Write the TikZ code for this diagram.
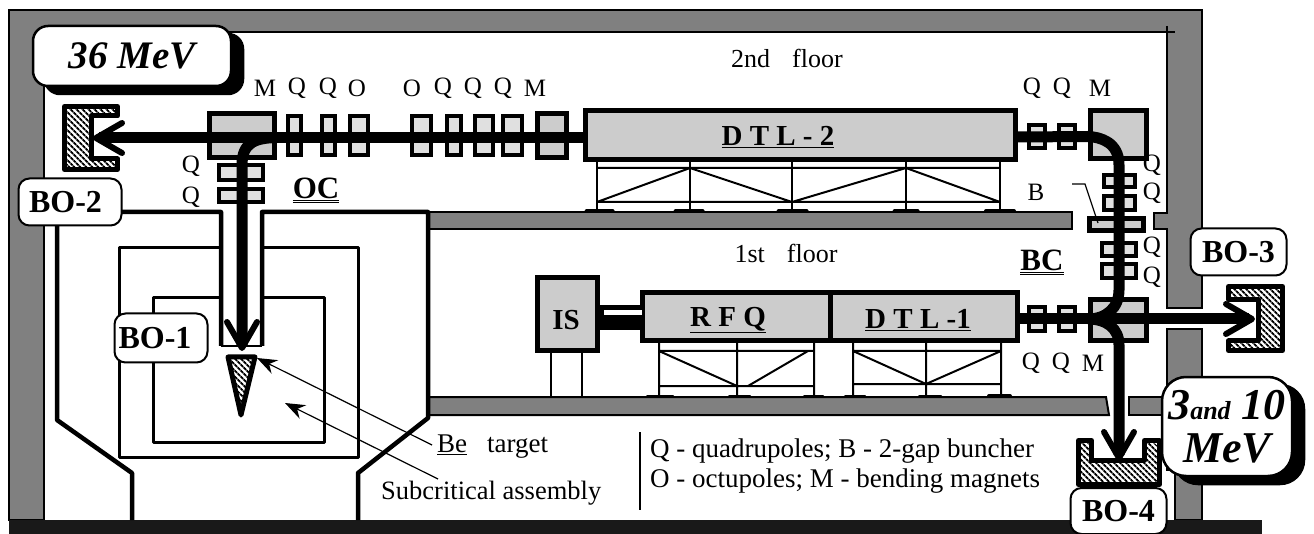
\documentclass[tikz,border=0pt]{standalone}
\usepackage{fontspec}
\setmainfont{Liberation Serif}
\usetikzlibrary{arrows.meta,patterns.meta,shadows}
\definecolor{wall}{HTML}{808080}
\definecolor{magnet}{HTML}{CCCCCC}
\definecolor{lens}{HTML}{E0E0E0}
\tikzset{
  concrete/.style={draw=black,line width=2pt,fill=wall},
  outline/.style={draw=black,line width=4.5pt,line join=round},
  inner wall/.style={draw=black,line width=3pt,line join=round},
  strut/.style={draw=black,line width=2pt},
  foot/.style={draw=black,line width=3pt,line cap=round},
  lens box/.style={draw=black,line width=4pt,fill=lens,inner sep=0pt},
  mag box/.style={draw=black,line width=5pt,fill=magnet,inner sep=0pt},
  hatched/.style={draw=black,line width=5pt,line join=round,preaction={fill=white},pattern={Lines[angle=-45,distance=4pt,line width=2pt]}},
  beam/.style={draw=black,line width=11pt},
  beamto/.style={beam,-{Straight Barb[length=26pt,width=30pt,line width=6pt,round]}},
  lead/.style={draw=black,line width=1.2pt},
  leadto/.style={lead,-{Stealth[length=20pt,width=15pt]}},
  lab/.style={font=\fontsize{25}{27}\selectfont,inner sep=0pt},
  legend/.style={font=\fontsize{27}{29}\selectfont,inner sep=0pt},
  title/.style={font=\fontsize{29}{31}\selectfont\bfseries,inner sep=0pt},
  section/.style={font=\fontsize{31}{33}\selectfont\bfseries,inner sep=0pt},
  tag/.style={draw=black,line width=2pt,fill=white,rounded corners=11pt,inner sep=0pt,font=\fontsize{32}{34}\selectfont\bfseries},
  energy/.style={draw=black,line width=2.5pt,fill=white,inner sep=0pt,align=center,font=\fontsize{39}{43}\selectfont\bfseries\itshape,
    copy shadow={shadow xshift=12pt,shadow yshift=-8pt,fill=black,draw=black}},
}
\begin{document}
\begin{tikzpicture}[x=1pt,y=-1pt]
\useasboundingbox (0,0) rectangle (1314,534);
\draw[concrete] (9,10) -- (1202,10) -- (1202,308) -- (1167,308) -- (1167,229) -- (1154,229) -- (1154,213) -- (1167,213) -- (1167,32) -- (44,32) -- (44,520) -- (9,520) -- cycle;
\draw[strut] (1167,26) -- (1167,32) -- (1175,32);
\draw[concrete] (1167,329) -- (1202,329) -- (1202,520) -- (1175,520) -- (1175,470) -- (1167,470) -- cycle;
\draw[concrete] (428,212) rectangle (1072,229);
\draw[concrete] (428,397) -- (1106,397) -- (1109,415) -- (428,415) -- cycle;
\draw[concrete] (1129,397) -- (1167,397) -- (1167,415) -- (1129,415) -- cycle;
\fill[black!90] (9,520) rectangle (1262,534);

\draw[outline] (221,346) -- (221,212) -- (57,212) -- (57,420) -- (132,473) -- (132,520);
\draw[outline] (262,346) -- (262,212) -- (428,212) -- (428,418) -- (358,473) -- (358,520);
\draw[strut] (221,346) -- (262,346);
\draw[inner wall] (221,248) -- (119,248) -- (119,457) -- (358,457) -- (358,248) -- (262,248);
\draw[inner wall] (221,298) -- (153,298) -- (153,442) -- (324,442) -- (324,298) -- (262,298);

\draw[strut] (597,156) -- (597,212) (690,156) -- (690,212) (792,156) -- (792,212) (906,156) -- (906,212) (1000,156) -- (1000,212);
\draw[strut] (597,168) -- (1000,168) (597,202) -- (1000,202) (597,202) -- (690,168) -- (792,202) -- (906,168) -- (1000,202);
\draw[foot] (586,211) -- (613,211) (675,211) -- (703,211) (778,211) -- (807,211) (894,211) -- (918,211);
\draw[foot,line width=4pt] (986,211) -- (1014,211);
\draw[strut] (659,343) -- (659,397) (737,343) -- (737,397) (814,343) -- (814,397) (659,351) -- (814,351) (659,386) -- (814,386) (659,351) -- (737,386) (748,386) -- (808,351);
\draw[foot] (647,396) -- (673,396) (729,396) -- (750,396) (804,396) -- (823,396);
\draw[strut] (853,343) -- (853,397) (926,343) -- (926,397) (1001,343) -- (1001,397) (853,351) -- (1001,351) (853,384) -- (1001,384) (853,351) -- (926,384) -- (1001,351);
\draw[foot] (845,396) -- (865,396) (919,396) -- (941,396);
\draw[foot,line width=4pt] (989,396) -- (1010,396);
\draw[strut] (551,353) -- (551,397) (582,353) -- (582,397);

\node[mag box,minimum width=65pt,minimum height=44pt] (mone) at (242,135.5) {};
\node[lens box,minimum width=13pt,minimum height=39pt] (qone) at (294.5,135.5) {};
\node[lens box,minimum width=13pt,minimum height=39pt] (qtwo) at (328.5,135.5) {};
\node[lens box,minimum width=18pt,minimum height=39pt] (oone) at (359,135.5) {};
\node[lens box,minimum width=19pt,minimum height=39pt] (otwo) at (421.5,135.5) {};
\node[lens box,minimum width=14pt,minimum height=39pt] (qthree) at (454,135.5) {};
\node[lens box,minimum width=18pt,minimum height=39pt] (qfour) at (484,135.5) {};
\node[lens box,minimum width=19pt,minimum height=39pt] (qfive) at (512.5,135.5) {};
\node[mag box,minimum width=29pt,minimum height=44pt] (mtwo) at (552,135.5) {};
\node[mag box,minimum width=430pt,minimum height=49pt] (dtltwo) at (800.5,135) {};
\node[lens box,minimum width=44pt,minimum height=15pt] (qsix) at (241,172.5) {};
\node[lens box,minimum width=44pt,minimum height=13pt] (qseven) at (241,195.5) {};
\node[lens box,minimum width=16pt,minimum height=23pt] (qeight) at (1037,136.5) {};
\node[lens box,minimum width=16pt,minimum height=23pt] (qnine) at (1067,136.5) {};
\node[mag box,minimum width=56pt,minimum height=48pt] (mthree) at (1118.5,134.5) {};
\node[lens box,minimum width=31pt,minimum height=12pt] (qten) at (1119.5,181) {};
\node[lens box,minimum width=31pt,minimum height=14pt] (qeleven) at (1119.5,203) {};
\node[mag box,minimum width=54pt,minimum height=12pt] (bunch) at (1116.5,224.5) {};
\node[lens box,minimum width=34pt,minimum height=13pt] (qtwelve) at (1119,249.5) {};
\node[lens box,minimum width=34pt,minimum height=14pt] (qthirteen) at (1119,271) {};
\node[mag box,minimum width=56pt,minimum height=41pt] (mfour) at (1118.5,320) {};
\node[lens box,minimum width=16pt,minimum height=24pt] (qfourteen) at (1037,319) {};
\node[lens box,minimum width=16pt,minimum height=24pt] (qfifteen) at (1067,319) {};
\node[mag box,minimum width=60pt,minimum height=73pt] (is) at (567.5,314) {};
\node[mag box,minimum width=188pt,minimum height=48pt] (rfq) at (736,316.5) {};
\node[mag box,minimum width=187pt,minimum height=48pt] (dtlone) at (923.5,316.5) {};

\fill[black] (is.east |- 0,305) rectangle (rfq.west |- 0,330);
\fill[white] (604,310) rectangle (642,315);

\draw[hatched] (64.5,106.5) -- (117.5,106.5) -- (117.5,116) -- (91,116) -- (91,159) -- (117.5,159) -- (117.5,169.5) -- (64.5,169.5) -- cycle;
\draw[hatched] (1228.5,286.5) -- (1282.5,286.5) -- (1282.5,350.5) -- (1228.5,350.5) -- (1228.5,341) -- (1258,341) -- (1258,300) -- (1228.5,300) -- cycle;
\draw[hatched] (1078.5,440.5) -- (1091.5,440.5) -- (1091.5,460) -- (1144.5,460) -- (1144.5,440.5) -- (1159.5,440.5) -- (1159.5,484.5) -- (1078.5,484.5) -- cycle;
\draw[hatched] (228,357) -- (255,357) -- (241,415) -- cycle;

\coordinate (endtwo) at (93,138);
\coordinate (endone) at (242,351);
\coordinate (endthree) at (1255,319);
\coordinate (endfour) at (1119,461);
\draw[beamto] ([yshift=-3pt]dtltwo.west) -- (endtwo);
\draw[beamto] ([yshift=-2pt]mone.east) .. controls (256,138) and (242,142) .. (242,165) -- (endone);
\draw[beam] ([yshift=-2pt]dtltwo.east) -- ([yshift=-2pt]mthree.west) .. controls (1100,137) and (1119,142) .. (1119,165) -- (1119,290) .. controls (1119,308) and (1106,319) .. (mfour.west |- 0,319);
\draw[beamto] (dtlone.east |- 0,319) -- (endthree);
\draw[beamto] (mfour.west |- 0,319) .. controls (1106,319) and (1119,328) .. (1119,345) -- (endfour);

\draw[lead] (1072,184) -- (1085,184) -- (1098,223);
\node[legend,anchor=west] (betext) at (437,447) {\underline{Be}\hspace{20pt}target};
\node[legend,anchor=west,font=\fontsize{26.5}{28}\selectfont] (subtext) at (381,493) {Subcritical assembly};
\coordinate (betip) at (257,358);
\coordinate (subtip) at (285,403);
\draw[leadto] (432,445) -- (betip);
\draw[leadto] (438,479) -- (subtip);

\node[lab,font=\fontsize{26}{28}\selectfont] (top) at (787,58) {2nd\hspace{22pt}floor};
\node[lab,font=\fontsize{26}{28}\selectfont] (mid) at (786,253) {1st\hspace{22pt}floor};
\node[lab] (lm1) at (265,88) {M}; \node[lab] (lq1) at (297,88) {Q}; \node[lab] (lq2) at (328,88) {Q}; \node[lab] (lo1) at (357,88) {O};
\node[lab] (lo2) at (412,88) {O}; \node[lab] (lq3) at (443,88) {Q}; \node[lab] (lq4) at (473,88) {Q}; \node[lab] (lq5) at (503,88) {Q}; \node[lab] (lm2) at (535,88) {M};
\node[lab] (lq6) at (191,166) {Q}; \node[lab] (lq7) at (191,197) {Q};
\node[lab] (lq8) at (1032,88) {Q}; \node[lab] (lq9) at (1062,88) {Q}; \node[lab] (lm3) at (1100,88) {M};
\node[lab] (lq10) at (1152,165) {Q}; \node[lab] (lq11) at (1152,193) {Q}; \node[lab] (lb) at (1036,192) {B};
\node[lab] (lq12) at (1152,247) {Q}; \node[lab] (lq13) at (1152,277) {Q};
\node[lab] (lq14) at (1031,363) {Q}; \node[lab] (lq15) at (1061,363) {Q}; \node[lab] (lm4) at (1093,363) {M};
\node[legend,anchor=west] (legone) at (650,451) {Q - quadrupoles; B - 2-gap buncher};
\node[legend,anchor=west] (legtwo) at (650,481) {O - octupoles; M - bending magnets};
\draw[lead] (640,432) -- (640,510);

\node[title] (tdtltwo) at (778,137) {\underline{D T L - 2}};
\node[title] (trfq) at (728,320) {\underline{R F Q}};
\node[title] (tdtlone) at (918,320) {\underline{D T L -1}};
\node[title] (tis) at (566,320) {IS};
\node[section] (oc) at (316,190) {\underline{\underline{OC}}};
\node[section] (bc) at (1042,262) {\underline{\underline{BC}}};

\node[tag,minimum width=103pt,minimum height=47pt] (botwo) at (70,202) {BO-2\kern9pt};
\node[tag,minimum width=93pt,minimum height=49pt] (boone) at (161,338) {BO-1\kern12pt};
\node[tag,minimum width=96pt,minimum height=47pt] (bothree) at (1238.5,252) {BO-3};
\node[tag,minimum width=96pt,minimum height=46pt] (bofour) at (1118.5,511) {BO-4};
\node[energy,rounded corners=15pt,minimum width=198pt,minimum height=60pt] (emax) at (132,56) {36 MeV};
\node[energy,font=\fontsize{44}{43}\selectfont\bfseries\itshape,rounded corners=24pt,minimum width=130pt,minimum height=99pt] (elow) at (1227,426.5) {3{\fontsize{26}{26}\selectfont and} 10\\MeV};
\end{tikzpicture}
\end{document}
